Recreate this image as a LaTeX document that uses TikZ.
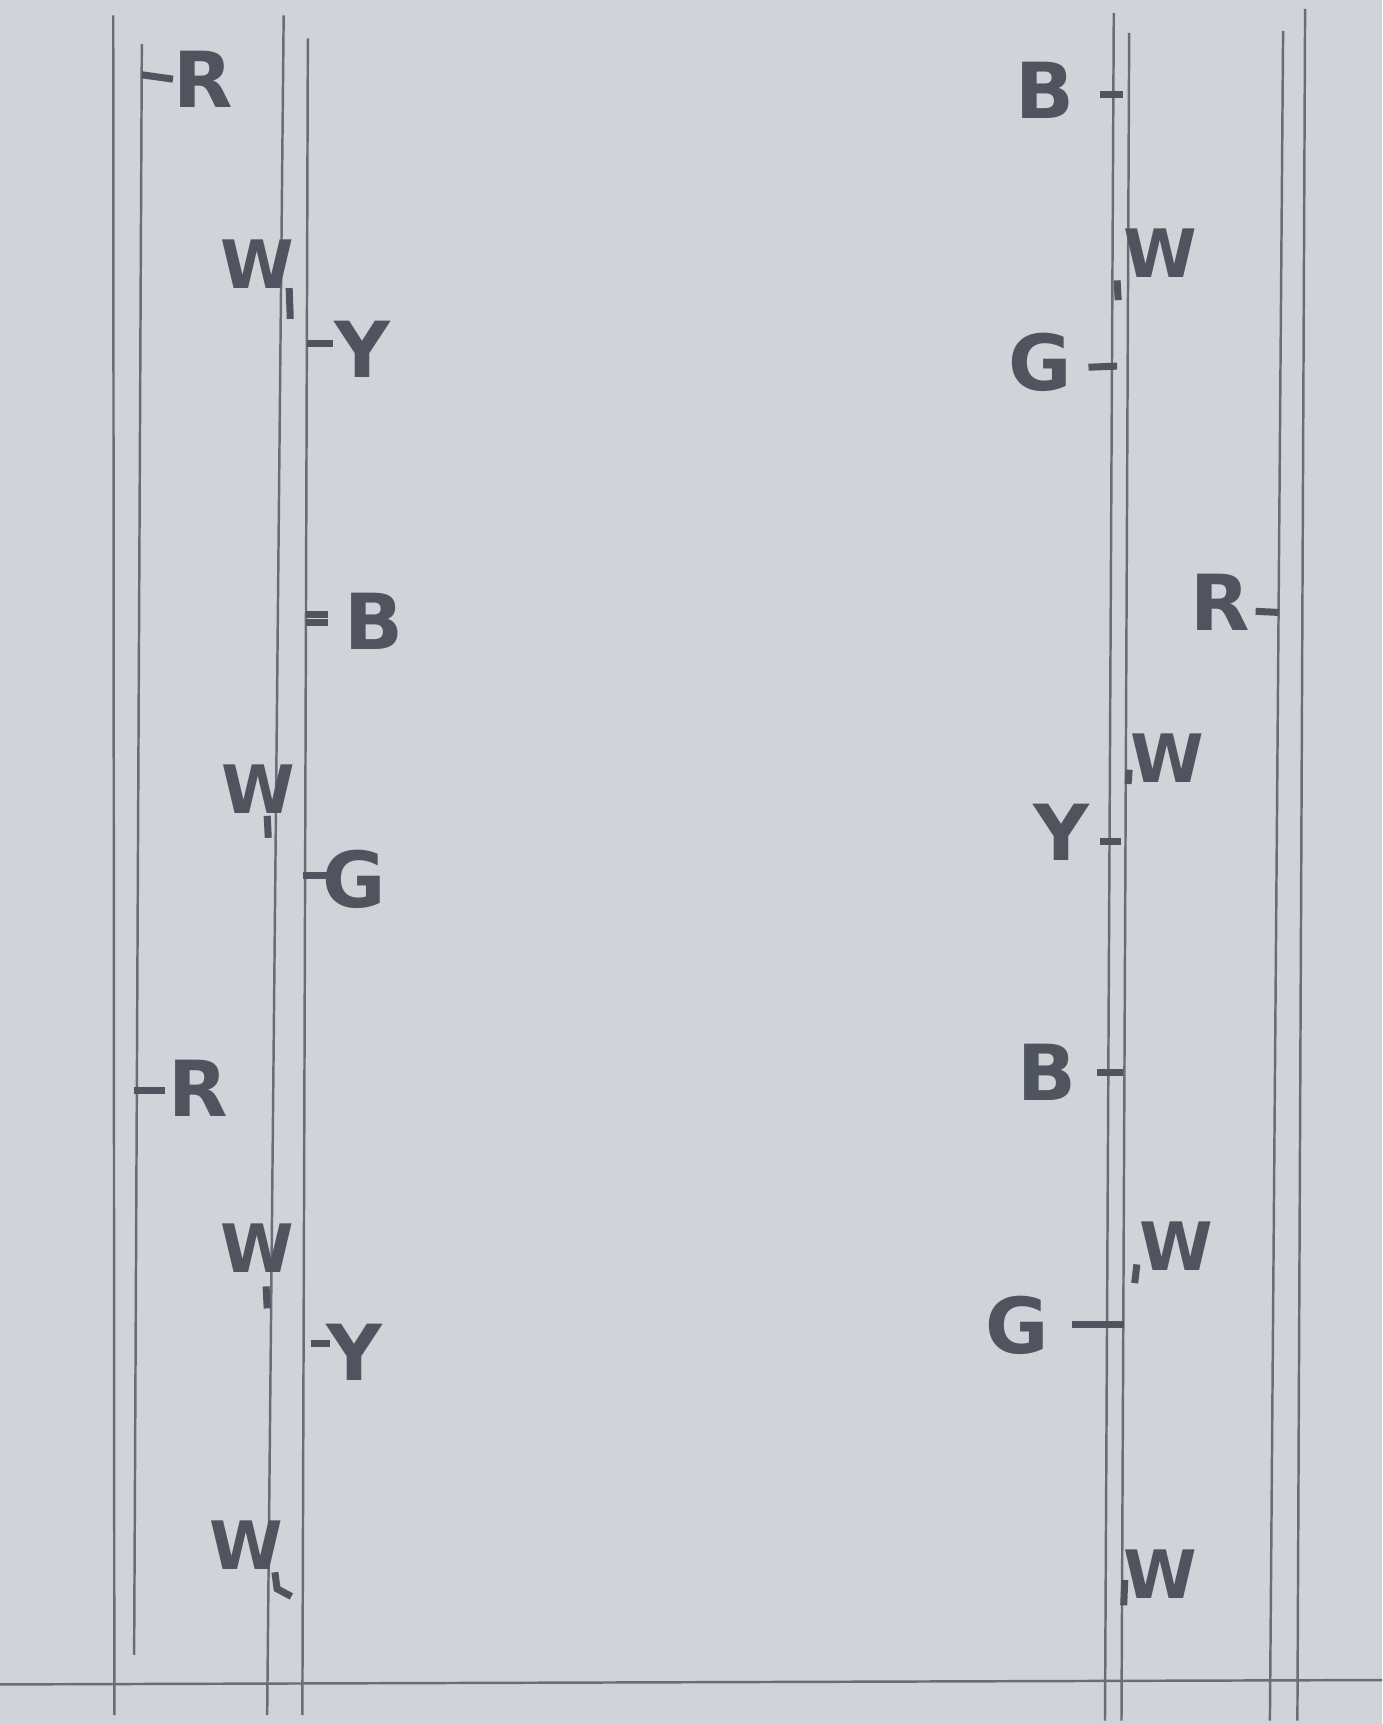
\documentclass[tikz,border=0pt]{standalone}
\usepackage{fontspec}
\setsansfont{DejaVu Sans}
\definecolor{paper}{RGB}{208,211,216}
\definecolor{pencil}{RGB}{105,109,119}
\definecolor{lead}{RGB}{80,84,94}
\begin{document}
\begin{tikzpicture}[x=0.010994cm, y=-0.010994cm,
    wire/.style={draw=pencil, line width=.7pt},
    tick/.style={draw=lead, line width=2pt},
    tag/.style={text=lead, inner sep=0pt, font=\fontsize{22}{22}\selectfont\sffamily\bfseries},
    wtag/.style={tag, font=\fontsize{19}{19}\selectfont\sffamily\bfseries}]

    \fill[paper] (0,0) rectangle (1257,1568);
    \useasboundingbox (0,0) rectangle (1257,1568);

    % left pair of cables
    \foreach \xa/\ya/\xb/\yb in {103/14/104/1560, 129/40/122/1505,
                                 258/14/243/1560, 280/35/275/1560}
        \draw[wire] (\xa,\ya) -- (\xb,\yb);

    % right pair of cables
    \foreach \xa/\ya/\xb/\yb in {1013/12/1005/1565, 1027/30/1020/1565,
                                 1167/28/1155/1565, 1187/8/1180/1565}
        \draw[wire] (\xa,\ya) -- (\xb,\yb);

    % floor line
    \draw[wire] (0,1532) -- (1257,1528);

    % left side marks
    \node[tag]  (lR1) at (185,72)   {R};
    \node[wtag] (lW1) at (234,240)  {W};
    \node[tag]  (lY1) at (330,318)  {Y};
    \node[tag]  (lB1) at (340,565)  {B};
    \node[wtag] (lW2) at (235,718)  {W};
    \node[tag]  (lG1) at (322,800)  {G};
    \node[tag]  (lR2) at (180,990)  {R};
    \node[wtag] (lW3) at (234,1135) {W};
    \node[tag]  (lY2) at (322,1230) {Y};
    \node[wtag] (lW4) at (224,1405) {W};

    \draw[tick] (129,68) -- (lR1.west);
    \draw[tick] (263,262) -- (264,290);
    \draw[tick] (279,312) -- (303,312);
    \draw[tick] (278,559) -- (298,559);
    \draw[tick] (278,566) -- (298,566);
    \draw[tick] (243,742) -- (244,762);
    \draw[tick] (276,796) -- (300,796);
    \draw[tick] (122,992) -- (150,992);
    \draw[tick] (242,1170) -- (243,1190);
    \draw[tick] (283,1222) -- (300,1222);
    \draw[tick] (250,1430) -- (252,1445) -- (265,1452);

    % right side marks
    \node[tag]  (rB1) at (950,82)   {B};
    \node[wtag] (rW1) at (1055,230) {W};
    \node[tag]  (rG1) at (946,330)  {G};
    \node[tag]  (rR1) at (1110,548) {R};
    \node[wtag] (rW2) at (1062,690) {W};
    \node[tag]  (rY1) at (965,757)  {Y};
    \node[tag]  (rB2) at (952,975)  {B};
    \node[wtag] (rW3) at (1070,1133){W};
    \node[tag]  (rG2) at (925,1205) {G};
    \node[wtag] (rW4) at (1055,1432){W};

    \draw[tick] (1000,86) -- (1021,86);
    \draw[tick] (1016,255) -- (1017,273);
    \draw[tick] (990,334) -- (1016,333);
    \draw[tick] (1142,556) -- (1163,557);
    \draw[tick] (1027,700) -- (1026,713);
    \draw[tick] (1000,765) -- (1020,765);
    \draw[tick] (998,975) -- (1021,975);
    \draw[tick] (1034,1150) -- (1032,1167);
    \draw[tick] (975,1205) -- (1022,1205);
    \draw[tick] (1023,1437) -- (1022,1460);
\end{tikzpicture}
\end{document}
